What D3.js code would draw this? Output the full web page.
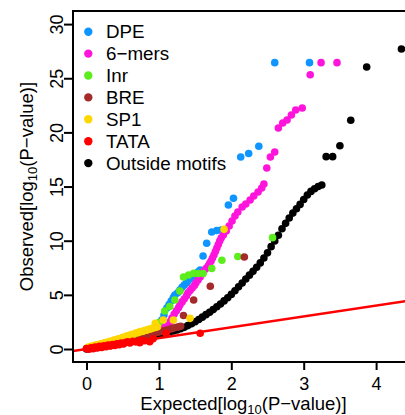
<!DOCTYPE html>
<html>
<head>
<meta charset="utf-8">
<script src="https://cdn.jsdelivr.net/npm/d3@7"></script>
<style>
body {margin: 0; background: #fff}
text {font-family: "Liberation Sans", Arial, sans-serif}
</style>
</head>
<body>
<div id="chart"></div>
<script>
// legend order
const categories = ["DPE", "6\u2212mers", "Inr", "BRE", "SP1", "TATA", "Outside motifs"]

// [expected, observed] pairs
const dpe = [[0.10,0.17],[0.30,0.52],[0.50,0.88],[0.70,1.25],[0.90,1.75],[0.99,2.10],[1.02,2.50],
    [1.04,2.68],[1.07,3.14],[1.11,3.79],[1.14,4.10],[1.17,4.43],[1.20,4.75],[1.22,4.99],[1.26,5.20],[1.29,5.45],
    [1.32,5.70],[1.35,5.91],[1.38,6.10],[1.40,6.28],[1.43,6.48],[1.46,6.65],[1.49,6.80],[1.51,6.93],[1.54,7.10],[1.57,7.29],
    [1.61,8.59],[1.66,9.76],[1.73,10.80],[1.80,10.94],[1.86,10.99],[1.96,13.30],[2.03,13.92],
    [2.13,17.73],[2.24,18.05],[2.38,18.72],[2.60,26.44],[3.08,26.44]]

const sixmers = [[0.10,0.16],[0.25,0.40],[0.40,0.64],[0.55,0.88],[0.70,1.12],[0.85,1.40],[1.00,1.75],[1.08,2.00],
    [1.13,2.22],[1.16,2.55],[1.18,2.86],[1.21,3.20],[1.24,3.51],[1.27,3.80],[1.29,4.06],[1.32,4.35],[1.35,4.62],
    [1.38,4.90],[1.40,5.17],[1.43,5.40],[1.46,5.63],[1.49,5.86],[1.51,6.09],[1.54,6.37],[1.57,6.65],[1.60,6.92],
    [1.62,7.20],[1.65,7.43],[1.68,7.66],[1.70,7.90],[1.72,8.13],[1.74,8.40],[1.76,8.68],[1.78,9.00],[1.80,9.33],
    [1.82,9.65],[1.84,9.97],[1.86,10.25],[1.89,10.53],[1.93,10.90],[1.97,11.36],[2.01,11.82],[2.05,12.28],
    [2.09,12.65],[2.15,13.11],[2.20,13.39],[2.26,13.76],[2.31,14.13],[2.37,14.50],[2.42,14.87],[2.45,15.24],
    [2.49,16.71],[2.54,17.73],[2.60,18.19],[2.65,20.41],[2.71,20.87],[2.77,21.14],[2.83,21.61],[2.89,22.07],
    [2.98,22.25],[3.09,25.33],[3.24,26.44],[3.46,26.44]]

const inr = [[0.10,0.18],[0.25,0.42],[0.40,0.68],[0.55,0.95],[0.70,1.22],[0.85,1.52],[1.00,2.45],
    [1.08,3.51],[1.15,3.92],[1.22,4.52],[1.29,5.36],[1.34,6.65],[1.41,6.83],[1.48,6.99],[1.54,6.97],
    [1.61,6.97],[1.73,7.43],[1.87,8.19],[2.09,8.54],[2.57,10.28]]

const bre = [[0.05,0.05],[0.12,0.12],[0.20,0.18],[0.27,0.28],[0.31,0.35],[0.35,0.42],[0.39,0.50],[0.43,0.57],
    [0.47,0.64],[0.51,0.71],[0.55,0.78],[0.59,0.85],[0.63,0.92],[0.67,0.99],[0.71,1.06],[0.75,1.13],[0.79,1.20],
    [0.83,1.26],[0.87,1.33],[0.91,1.40],[0.95,1.47],[0.99,1.54],[1.03,1.61],[1.07,1.68],[1.11,1.75],[1.15,1.82],
    [1.19,1.90],[1.23,1.98],[1.27,2.04],[1.30,2.10],[1.34,3.09],[1.48,4.52],[1.71,5.79],[2.18,8.49]]

const sp1 = [[0.02,0.15],[0.05,0.22],[0.08,0.28],[0.11,0.32],[0.14,0.38],[0.17,0.42],[0.20,0.48],[0.23,0.52],
    [0.26,0.60],[0.29,0.62],[0.32,0.70],[0.35,0.72],[0.38,0.82],[0.41,0.84],[0.44,0.94],[0.47,0.96],[0.50,1.08],
    [0.53,1.10],[0.56,1.22],[0.59,1.24],[0.62,1.34],[0.65,1.36],[0.68,1.48],[0.71,1.50],[0.74,1.60],[0.77,1.62],
    [0.80,1.70],[0.83,1.74],[0.86,1.82],[0.89,1.86],[0.92,1.94],[0.95,1.98],[0.98,2.06],
    [0.95,2.37],[1.06,2.68],[1.20,2.68],[1.43,2.83],[1.90,11.05]]

const tata = [[0.00,0.04],[0.03,-0.02],[0.06,0.11],[0.09,0.03],[0.12,0.17],[0.15,0.09],[0.18,0.24],[0.21,0.15],
    [0.24,0.30],[0.27,0.21],[0.30,0.36],[0.33,0.27],[0.36,0.42],[0.39,0.33],[0.42,0.48],[0.45,0.40],[0.48,0.55],
    [0.51,0.46],[0.54,0.60],[0.57,0.67],[0.60,0.56],[0.64,0.70],[0.68,0.66],[0.735,0.58],[0.76,0.80],[0.80,0.76],
    [0.873,0.67],[0.92,0.94],[1.10,1.45],[1.57,1.45]]

const outside = [[0.00,0.00],[0.05,0.05],[0.10,0.11],[0.15,0.17],[0.20,0.23],[0.25,0.29],[0.30,0.35],[0.35,0.41],
    [0.40,0.47],[0.45,0.53],[0.50,0.60],[0.55,0.67],[0.60,0.74],[0.65,0.81],[0.70,0.88],[0.75,0.95],[0.80,1.03],
    [0.85,1.11],[0.90,1.19],[0.95,1.27],[1.00,1.35],[1.05,1.43],[1.10,1.51],[1.15,1.59],[1.20,1.67],[1.25,1.76],
    [1.30,1.87],[1.35,2.00],[1.40,2.16],[1.45,2.33],[1.50,2.52],[1.55,2.72],[1.60,2.94],[1.65,3.17],[1.70,3.40],
    [1.75,3.64],[1.80,3.90],[1.85,4.16],[1.90,4.44],[1.95,4.73],[2.00,5.04],[2.05,5.38],[2.10,5.74],[2.15,6.10],
    [2.20,6.46],[2.25,6.82],[2.30,7.17],[2.35,7.55],[2.40,7.95],[2.45,8.40],[2.50,8.88],[2.55,9.45],[2.60,9.98],
    [2.65,10.50],[2.70,11.10],[2.75,11.60],[2.80,12.10],[2.85,12.55],[2.90,12.95],[2.95,13.35],[3.00,13.80],
    [3.05,14.22],[3.10,14.55],[3.15,14.80],[3.20,15.00],[3.25,15.15],[3.31,17.76],[3.40,17.76],[3.50,18.77],
    [3.65,21.12],[3.87,26.04],[4.35,27.70]]

const xTicks = [0, 1, 2, 3, 4]
const yTicks = [0, 5, 10, 15, 20, 25, 30]

const seriesData = [dpe, sixmers, inr, bre, sp1, tata, outside]
const colors = ["#0F95FF", "#FF14DC", "#5CEE1C", "#A52A2A", "#FFD700", "#FF0000", "#000000"]
// drawing order: background cloud first, motifs over it
const drawOrder = [6, 0, 1, 2, 3, 4, 5]

let width = 405, height = 415
let box = {left: 73, top: 11, right: 414, bottom: 362}

let svg = d3.select("#chart")
    .append("svg")
    .attr("width", width)
    .attr("height", height)

let x = d3.scaleLinear().domain([0, 4]).range([86.5, 376.1])
let y = d3.scaleLinear().domain([0, 30]).range([349, 24.1])

svg.append("clipPath").attr("id", "clip")
    .append("rect")
    .attr("x", box.left).attr("y", box.top)
    .attr("width", box.right - box.left).attr("height", box.bottom - box.top)

let plot = svg.append("g")

drawOrder.forEach(i => {
    plot.append("g")
        .selectAll("circle")
        .data(seriesData[i])
        .enter()
        .append("circle")
        .attr("cx", d => x(d[0]))
        .attr("cy", d => y(d[1]))
        .attr("r", 3.8)
        .attr("fill", colors[i])
})

// y = x reference line
let x0 = x.invert(box.left), x1 = x.invert(box.right)
plot.append("line")
    .attr("clip-path", "url(#clip)")
    .attr("x1", x(x0)).attr("y1", y(x0))
    .attr("x2", x(x1)).attr("y2", y(x1))
    .attr("stroke", "#FF0000")
    .attr("stroke-width", 2.5)

svg.append("rect")
    .attr("x", box.left).attr("y", box.top)
    .attr("width", box.right - box.left).attr("height", box.bottom - box.top)
    .attr("fill", "none")
    .attr("stroke", "#000")
    .attr("stroke-width", 2)

let xAxis = svg.append("g")
    .attr("transform", "translate(0," + box.bottom + ")")
    .call(d3.axisBottom(x).tickValues(xTicks).tickFormat(d3.format("d")).tickSize(8))
xAxis.select(".domain").remove()
xAxis.selectAll("line").attr("stroke-width", 2)
xAxis.selectAll("text")
    .attr("y", 27.5).attr("dy", 0)
    .attr("font-size", 18)
    .attr("font-family", "Liberation Sans, Arial, sans-serif")

let yAxis = svg.append("g")
    .attr("transform", "translate(" + box.left + ",0)")
    .call(d3.axisLeft(y).tickValues(yTicks).tickFormat(d3.format("d")).tickSize(9))
yAxis.select(".domain").remove()
yAxis.selectAll("line").attr("stroke-width", 2)
yAxis.selectAll("text")
    .attr("x", 0).attr("dy", 0)
    .attr("text-anchor", "middle")
    .attr("transform", "translate(-10,0) rotate(-90)")
    .attr("font-size", 18)
    .attr("font-family", "Liberation Sans, Arial, sans-serif")

// axis titles with subscript 10
function title(g, label) {
    g.append("tspan").text(label + "[log")
    g.append("tspan").text("10").attr("font-size", 13).attr("dy", 4)
    g.append("tspan").text("(P\u2212value)]").attr("dy", -4)
}

let xt = svg.append("text")
    .attr("x", (box.left + box.right) / 2)
    .attr("y", 409.5)
    .attr("text-anchor", "middle")
    .attr("font-size", 18.5)
title(xt, "Expected")

let yt = svg.append("text")
    .attr("transform", "translate(33," + (box.top + box.bottom) / 2 + ") rotate(-90)")
    .attr("text-anchor", "middle")
    .attr("font-size", 18.5)
title(yt, "Observed")

let legend = svg.append("g")
categories.forEach((c, i) => {
    let cy = 31.7 + i * 21.9
    legend.append("circle")
        .attr("cx", 88.3).attr("cy", cy).attr("r", 4.2)
        .attr("fill", colors[i])
    legend.append("text")
        .attr("x", 106).attr("y", cy + 6.5)
        .attr("font-size", 18.8)
        .text(c)
})
</script>
</body>
</html>
